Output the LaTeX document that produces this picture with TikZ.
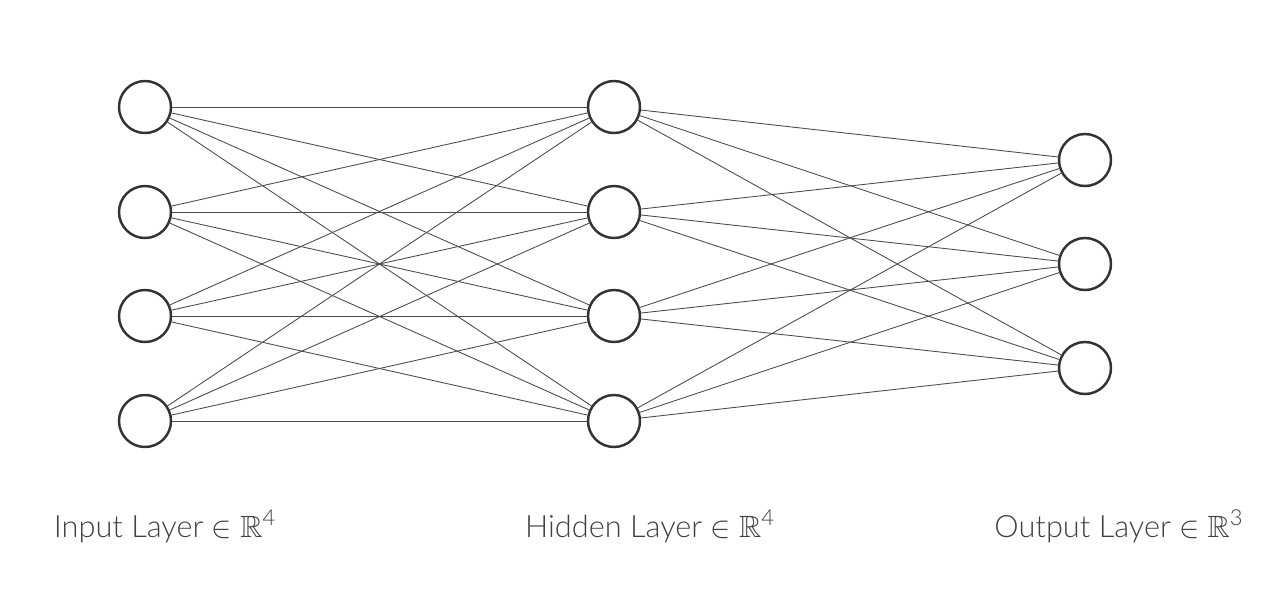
\documentclass[tikz,border=0pt]{standalone}
\usepackage{fontspec}
\usepackage{amssymb}
\setmainfont{Lato Light}
\newcommand{\dimsup}[1]{\textsuperscript{\fontsize{12.5}{12}\selectfont #1}}
\begin{document}
\begin{tikzpicture}[x=0.02cm, y=-0.02cm]
	\tikzset{neuron/.style={circle, draw=black!80, line width=1.4pt, minimum size=1.04cm, inner sep=0pt, fill=white},
		link/.style={draw=black!70, line width=0.5pt},
		layerlabel/.style={anchor=base, text=black!75, font=\fontsize{17.5}{20}\selectfont}}
	\useasboundingbox (0,0) rectangle (1278,600);
	% neurons
	\foreach \i/\y in {1/107,2/212,3/316,4/421}
		\node[neuron] (in\i) at (145,\y) {};
	\foreach \i/\y in {1/107,2/212,3/316,4/421}
		\node[neuron] (hid\i) at (614,\y) {};
	\foreach \i/\y in {1/160,2/264,3/368}
		\node[neuron] (out\i) at (1085,\y) {};
	% connections
	\foreach \i in {1,...,4}
		\foreach \j in {1,...,4}
			\draw[link] (in\i) -- (hid\j);
	\foreach \i in {1,...,4}
		\foreach \j in {1,...,3}
			\draw[link] (hid\i) -- (out\j);
	% layer names
	\node[layerlabel] (inname) at (165,537) {Input Layer $\in$ $\mathbb{R}$\dimsup{4}};
	\node[layerlabel] (hidname) at (650,537) {Hidden Layer $\in$ $\mathbb{R}$\dimsup{4}};
	\node[layerlabel] (outname) at (1119,537) {Output Layer $\in$ $\mathbb{R}$\dimsup{3}};
\end{tikzpicture}
\end{document}
